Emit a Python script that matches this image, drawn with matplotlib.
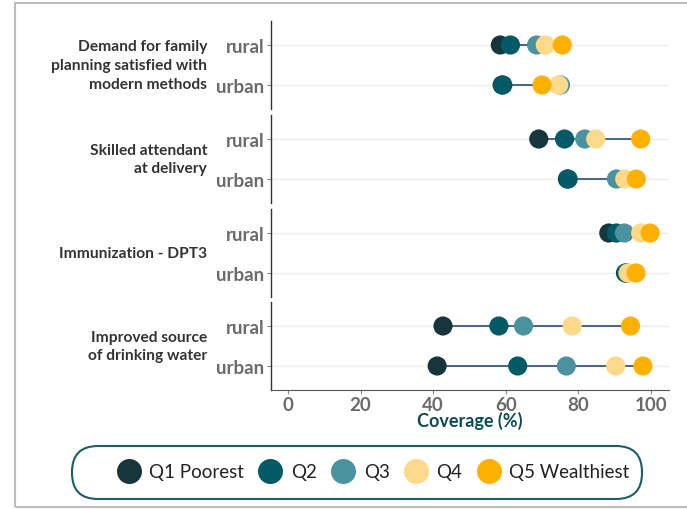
import matplotlib.pyplot as plt
import numpy as np
from matplotlib.lines import Line2D
from matplotlib.patches import Rectangle, FancyBboxPatch

# indicator groups, top to bottom
indicators = ["Demand for family\nplanning satisfied with\nmodern methods",
              "Skilled attendant\nat delivery",
              "Immunization - DPT3",
              "Improved source\nof drinking water"]
areas = ["rural", "urban"]
quintiles = ["Q1 Poorest", "Q2", "Q3", "Q4", "Q5 Wealthiest"]
q_colors = ["#17363b", "#015a66", "#4a929e", "#ffd98a", "#ffb000"]

# coverage (%) per indicator: [rural row, urban row], each Q1..Q5
fp_rural = [58.5, 61.3, 68.5, 70.9, 75.6]
fp_urban = [59.0, 59.2, 75.1, 74.6, 70.0]
sba_rural = [69.1, 76.2, 81.8, 84.8, 97.2]
sba_urban = [77.0, 77.2, 90.5, 92.8, 96.0]
dpt_rural = [88.4, 90.5, 92.7, 97.2, 99.8]
dpt_urban = [93.0, 93.2, 93.5, 93.8, 95.9]
wat_rural = [42.7, 58.1, 64.9, 78.3, 94.4]
wat_urban = [41.1, 63.3, 76.7, 90.3, 97.8]

values = [(fp_rural, fp_urban), (sba_rural, sba_urban),
          (dpt_rural, dpt_urban), (wat_rural, wat_urban)]
x_ticks = [0, 20, 40, 60, 80, 100]

FONT = "Lato"
W, H = 687, 510
fig = plt.figure(figsize=(W / 100, H / 100), dpi=100)

# light frame around the graphic (runs off the right edge)
fig.patches.append(Rectangle((15 / W, 2 / H), 1.1, (506 - 2) / H, transform=fig.transFigure,
                             fill=False, edgecolor="#bdbdbd", linewidth=1.5))

left, right = 271 / W, 669 / W
tops = [22, 116, 210, 303]
ph = 88
axes = []
for i, top in enumerate(tops):
    ax = fig.add_axes([left, 1 - (top + ph) / H, right - left, ph / H])
    axes.append(ax)
    rural, urban = values[i]
    for y, row in zip([1, 0], [rural, urban]):
        ax.axhline(y, color="#ececec", linewidth=1.0, zorder=0)
        ax.plot([min(row), max(row)], [y, y], color="#2a4d70", linewidth=1.2, zorder=1)
        for q in range(5):
            ax.scatter(row[q], y, s=190, color=q_colors[q], edgecolors="none", zorder=2 + q)
    ax.set_xlim(-4.7, 105)
    ax.set_ylim(-0.6, 1.6)
    ax.set_yticks([1, 0])
    ax.set_yticklabels(areas, fontfamily=FONT, fontweight="bold", fontsize=13.5, color="#6b6b6b")
    ax.tick_params(axis="y", length=3, color="#888888", pad=2)
    for s in ["top", "right"]:
        ax.spines[s].set_visible(False)
    ax.spines["left"].set_color("#333333")
    ax.spines["left"].set_linewidth(1.0)
    if i < 3:
        ax.spines["bottom"].set_visible(False)
        ax.set_xticks([])
    else:
        ax.spines["bottom"].set_color("#555555")
        ax.set_xticks(x_ticks)
        ax.set_xticklabels([str(t) for t in x_ticks], fontfamily=FONT, fontweight="bold",
                           fontsize=13.5, color="#6b6b6b")
        ax.tick_params(axis="x", length=3, color="#888888", pad=1)
        ax.set_xlabel("Coverage (%)", fontfamily=FONT, fontweight="bold", fontsize=13,
                      color="#0b4a55", labelpad=-1)
    fig.text(207 / W, 1 - (top + ph / 2) / H, indicators[i], ha="right", va="center",
             fontfamily=FONT, fontweight="bold", fontsize=11.2, color="#333333",
             linespacing=1.45)

# pill-shaped legend box, drawn in inches so the corners stay round
fig.patches.append(FancyBboxPatch((0.72, (H - 500) / 100), 5.70, 0.53,
                                  boxstyle="round,pad=0,rounding_size=0.26",
                                  transform=fig.dpi_scale_trans, facecolor="white",
                                  edgecolor="#1b5e6a", linewidth=1.5, zorder=0))

handles = [Line2D([], [], marker="o", linestyle="none", markersize=18,
                  markerfacecolor=c, markeredgecolor="none") for c in q_colors]
leg = fig.legend(handles, quintiles, loc="center", bbox_to_anchor=(372 / W, 1 - 473 / H),
                 ncol=5, frameon=False, handletextpad=0.35, columnspacing=0.65,
                 prop={"family": FONT, "size": 13.5}, labelcolor="#222222",
                 handlelength=1.5)

fig.savefig("out.png", dpi=100, facecolor="white")
